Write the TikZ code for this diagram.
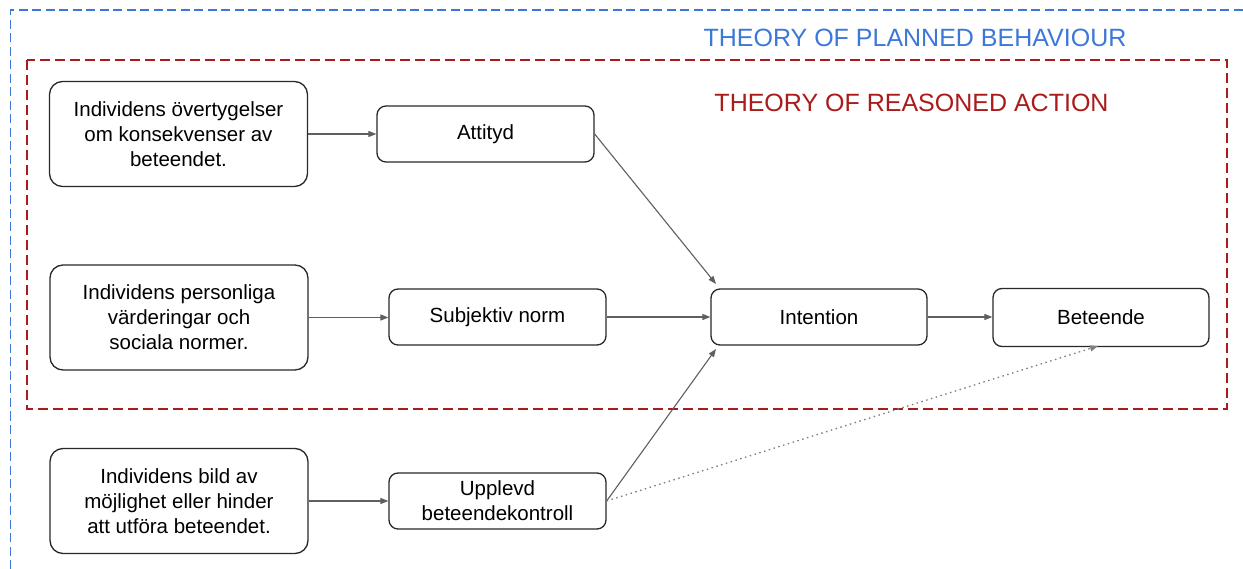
\documentclass[tikz,border=0pt]{standalone}
\usepackage{fontspec}
\setmainfont{Liberation Sans}
\usetikzlibrary{arrows.meta}
\definecolor{tpbblue}{RGB}{60,120,216}
\definecolor{trared}{RGB}{170,28,28}
\definecolor{arrowgray}{RGB}{95,95,95}
\definecolor{boxline}{RGB}{40,40,40}
\tikzset{
  bigbox/.style={draw=boxline, line width=1.3pt, rounded corners=13pt, minimum width=258pt, minimum height=105pt, inner sep=0pt, align=center, font=\fontsize{20.5}{25}\selectfont},
  smallbox/.style={draw=boxline, line width=1.3pt, rounded corners=9pt, minimum width=217pt, minimum height=56pt, inner sep=0pt, align=center, font=\fontsize{20.5}{25}\selectfont},
  conn/.style={draw=arrowgray, line width=1.1pt, -{Triangle[length=8pt,width=6pt]}},
  dotconn/.style={draw=arrowgray!80, line width=1.3pt, dash pattern=on 1.5pt off 3.5pt, -{Triangle[length=8pt,width=6pt]}},
  frameblue/.style={draw=tpbblue, line width=1.3pt, dash pattern=on 9pt off 4.5pt},
  framered/.style={draw=trared, line width=1.3pt, dash pattern=on 10pt off 5pt},
  title/.style={inner sep=0pt, font=\fontsize{25}{30}\selectfont}
}
\begin{document}
\begin{tikzpicture}[x=1pt,y=-1pt]
\useasboundingbox[fill=white] (0,0) rectangle (1243,569);
% frames
\draw[frameblue] (10.5,569) -- (10.5,10) -- (1243,10);
\draw[framered] (27,60) rectangle (1227,409);
\node[title, text=tpbblue] (tpb) at (915,38) {THEORY OF PLANNED BEHAVIOUR};
\node[title, text=trared] (tra) at (911.5,103) {THEORY OF REASONED ACTION};
% boxes
\node[bigbox] (a1) at (178.5,134) {Individens övertygelser\\om konsekvenser av\\beteendet.};
\node[bigbox] (a2) at (179,317.5) {Individens personliga\\värderingar och\\sociala normer.};
\node[bigbox] (a3) at (179,501) {Individens bild av\\möjlighet eller hinder\\att utföra beteendet.};
\node[smallbox] (att) at (485.5,134) {Attityd};
\node[smallbox] (sn) at (497.5,317) {Subjektiv norm};
\node[smallbox] (pbc) at (497.5,501) {Upplevd\\beteendekontroll};
\node[smallbox, minimum width=216pt] (int) at (819,317) {Intention};
\node[smallbox, minimum width=216pt, minimum height=58pt] (beh) at (1101,317.5) {Beteende};
\coordinate (intNW) at (716,284);
\coordinate (intSW) at (716,349);
\coordinate (behS) at (1098,346);
% connectors
\draw[conn] (a1.east) -- (a1.east -| att.west);
\draw[conn] (a2.east) -- (a2.east -| sn.west);
\draw[conn] (a3.east) -- (a3.east -| pbc.west);
\draw[conn] (att.east) -- (intNW);
\draw[conn] (sn.east) -- (sn.east -| int.west);
\draw[conn] (int.east) -- (int.east -| beh.west);
\draw[conn] (pbc.east) -- (intSW);
\draw[dotconn] (pbc.east) -- (behS);
\end{tikzpicture}
\end{document}
